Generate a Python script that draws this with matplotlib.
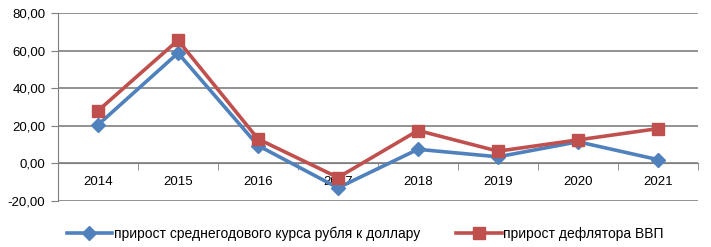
import matplotlib.pyplot as plt
import numpy as np

# данные
years = ['2014', '2015', '2016', '2017', '2018', '2019', '2020', '2021']
kurs = [20.5, 58.7, 9.5, -13.0, 7.5, 3.5, 11.5, 2.0]
deflator = [28.0, 65.5, 13.0, -7.5, 17.5, 6.5, 12.5, 18.5]
yticks = [-20, 0, 20, 40, 60, 80]
label_kurs = 'прирост среднегодового курса рубля к доллару'
label_defl = 'прирост дефлятора ВВП'

plt.rcParams['font.family'] = ['Liberation Sans', 'DejaVu Sans']

fig = plt.figure(figsize=(7.11, 2.47), dpi=100)
ax = fig.add_axes([58 / 711, 1 - 201 / 247, 640 / 711, 188 / 247])

x = np.arange(len(years))
ax.plot(x, kurs, color='#4F81BD', lw=2.6, marker='D', ms=7,
        label=label_kurs, zorder=3)
ax.plot(x, deflator, color='#C0504D', lw=2.6, marker='s', ms=8,
        label=label_defl, zorder=3)

ax.set_xlim(-0.5, len(years) - 0.5)
ax.set_ylim(-20, 80)
ax.set_yticks(yticks)
ax.set_yticklabels([f'{v:.2f}'.replace('.', ',') for v in yticks], fontsize=9.5)
ax.grid(axis='y', color='#7f7f7f', lw=1.2)
ax.set_axisbelow(True)

# ось X проходит через ноль
ax.spines['bottom'].set_position(('data', 0))
ax.spines['bottom'].set_color('#7f7f7f')
ax.spines['left'].set_color('#7f7f7f')
ax.spines['top'].set_visible(False)
ax.spines['right'].set_visible(False)
ax.set_xticks(x)
ax.set_xticklabels(years, fontsize=9.5)
ax.set_xticks(np.arange(-0.5, len(years)), minor=True)
ax.tick_params(axis='x', which='major', length=0, pad=9)
ax.tick_params(axis='x', which='minor', length=5, color='#7f7f7f', direction='out')
ax.tick_params(axis='y', length=5, color='#7f7f7f', pad=4)

fig.legend(loc='lower left', bbox_to_anchor=(54 / 711, -0.025), ncol=2,
           frameon=False, fontsize=10, handlelength=3.3, handletextpad=0.1,
           columnspacing=2.6)

fig.savefig('out.png', dpi=100)
